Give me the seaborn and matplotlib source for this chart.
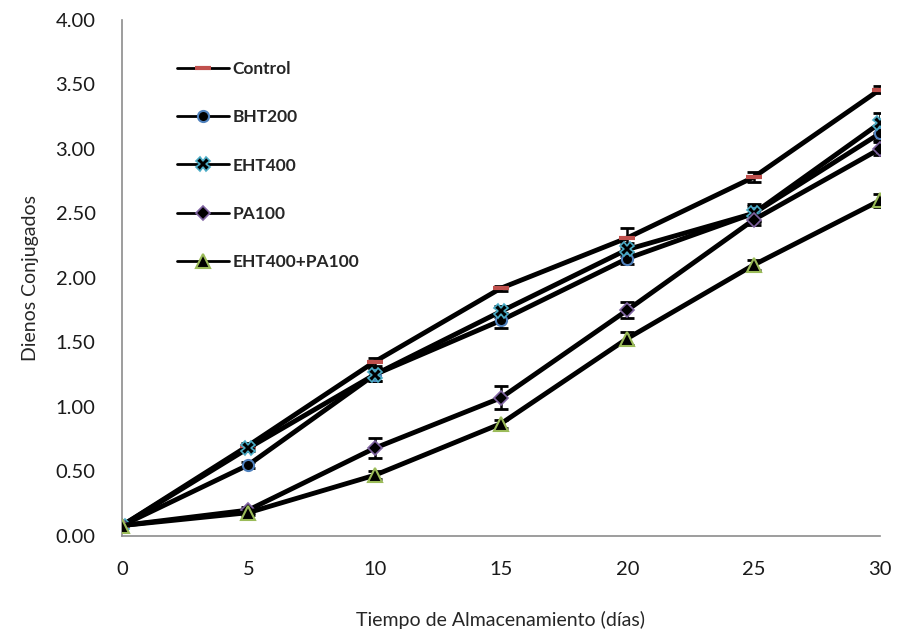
import matplotlib
matplotlib.use("Agg")
import matplotlib.pyplot as plt
import seaborn as sns
import pandas as pd
import numpy as np

days = [0, 5, 10, 15, 20, 25, 30]
series_names = ["Control", "BHT200", "EHT400", "PA100", "EHT400+PA100"]
control = [0.08, 0.70, 1.35, 1.92, 2.31, 2.78, 3.46]
bht200 = [0.08, 0.55, 1.25, 1.67, 2.15, 2.50, 3.12]
eht400 = [0.08, 0.68, 1.25, 1.74, 2.22, 2.50, 3.20]
pa100 = [0.08, 0.20, 0.68, 1.07, 1.75, 2.45, 3.00]
eht_pa = [0.08, 0.18, 0.47, 0.87, 1.53, 2.10, 2.60]
control_err = [0.0, 0.02, 0.03, 0.02, 0.08, 0.04, 0.03]
bht200_err = [0.0, 0.02, 0.05, 0.06, 0.04, 0.06, 0.05]
eht400_err = [0.0, 0.02, 0.05, 0.04, 0.05, 0.07, 0.08]
pa100_err = [0.0, 0.02, 0.08, 0.09, 0.06, 0.04, 0.05]
eht_pa_err = [0.0, 0.02, 0.03, 0.03, 0.05, 0.04, 0.05]
y_ticks = [0.0, 0.5, 1.0, 1.5, 2.0, 2.5, 3.0, 3.5, 4.0]

values = [control, bht200, eht400, pa100, eht_pa]
errors = [control_err, bht200_err, eht400_err, pa100_err, eht_pa_err]

sns.set_style("white")
plt.rcParams['font.family'] = ['Lato', 'DejaVu Sans']

fig = plt.figure(figsize=(8.97, 6.41), dpi=100)
ax = fig.add_axes([0.136, 0.164, 0.845, 0.805])

styles = {
    "Control": dict(marker="_", mfc="#C0504D", mec="#C0504D", ms=12, mew=3),
    "BHT200": dict(marker="o", mfc="black", mec="#4F81BD", ms=8, mew=1.5),
    "EHT400": dict(marker="X", mfc="black", mec="#4BACC6", ms=10, mew=1.2),
    "PA100": dict(marker="D", mfc="black", mec="#8064A2", ms=7, mew=1.2),
    "EHT400+PA100": dict(marker="^", mfc="black", mec="#9BBB59", ms=10, mew=1.5),
}

for name, vals, errs in zip(series_names, values, errors):
    df = pd.DataFrame({"dia": days, "valor": vals})
    st = styles[name]
    ax.errorbar(days, vals, yerr=errs, fmt="none", ecolor="black",
                elinewidth=1.8, capsize=5, capthick=2, zorder=2)
    sns.lineplot(data=df, x="dia", y="valor", ax=ax, color="black", linewidth=3.5,
                 marker=st["marker"], markerfacecolor=st["mfc"],
                 markeredgecolor=st["mec"], markersize=st["ms"],
                 markeredgewidth=st["mew"], label=name, zorder=3)

ax.set_xlim(0, 30)
ax.set_ylim(0, 4)
ax.set_xticks(days)
ax.set_xticklabels([str(d) for d in days])
ax.set_yticks(y_ticks)
ax.set_yticklabels([f"{v:.2f}" for v in y_ticks])
ax.tick_params(axis="both", labelsize=14.5, colors="#1a1a1a", length=0)
ax.tick_params(axis="x", pad=18)
ax.tick_params(axis="y", pad=19)
for s in ["top", "right"]:
    ax.spines[s].set_visible(False)
for s in ["left", "bottom"]:
    ax.spines[s].set_color("#8c8c8c")
    ax.spines[s].set_linewidth(1.2)
ax.set_xlabel("Tiempo de Almacenamiento (días)", fontsize=14, labelpad=24)
ax.set_ylabel("Dienos Conjugados", fontsize=14, labelpad=12)
ax.grid(False)

leg = ax.legend(loc="upper left", bbox_to_anchor=(0.052, 0.95), frameon=False,
                fontsize=12.5, handlelength=3.0, handletextpad=0.2,
                labelspacing=1.85)
for t in leg.get_texts():
    t.set_fontweight("bold")
for ln in leg.get_lines():
    ln.set_linewidth(2)

fig.savefig("out.png", dpi=100)
